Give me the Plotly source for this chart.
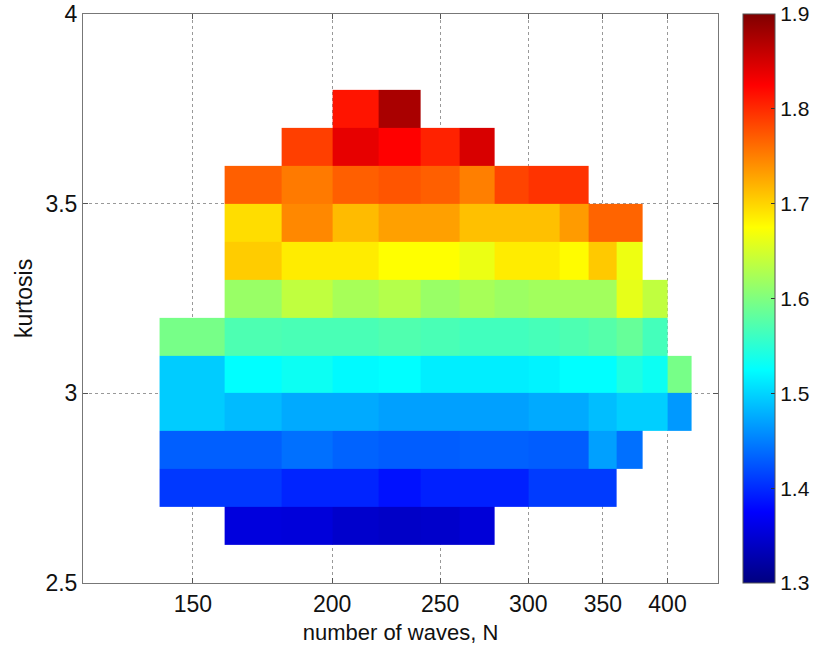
import plotly.graph_objects as go

# bin edges (number of waves N, log axis) and kurtosis bins
n_edges = [140, 160, 180, 200, 220, 240, 260, 280, 300, 320, 340, 360, 380, 400, 420]
k_edges = [2.6, 2.7, 2.8, 2.9, 3.0, 3.1, 3.2, 3.3, 3.4, 3.5, 3.6, 3.7, 3.8]

N = None
# rows from kurtosis 2.6-2.7 (bottom) to 3.7-3.8 (top); 14 columns each
row_26 = [N, 1.355, 1.353, 1.345, 1.342, 1.344, 1.352, N, N, N, N, N, N, N]
row_27 = [1.408, 1.408, 1.396, 1.396, 1.385, 1.394, 1.394, 1.394, 1.410, 1.410, 1.410, N, N, N]
row_28 = [1.431, 1.431, 1.441, 1.433, 1.430, 1.430, 1.432, 1.432, 1.430, 1.430, 1.469, 1.441, N, N]
row_29 = [1.495, 1.485, 1.475, 1.475, 1.469, 1.469, 1.469, 1.469, 1.475, 1.475, 1.487, 1.497, 1.497, 1.465]
row_30 = [1.495, 1.525, 1.532, 1.522, 1.525, 1.515, 1.515, 1.515, 1.518, 1.525, 1.525, 1.542, 1.532, 1.595]
row_31 = [1.595, 1.570, 1.568, 1.568, 1.572, 1.568, 1.563, 1.563, 1.566, 1.570, 1.575, 1.585, 1.565, N]
row_32 = [N, 1.615, 1.638, 1.623, 1.631, 1.615, 1.623, 1.617, 1.620, 1.620, 1.620, 1.660, 1.638, N]
row_33 = [N, 1.705, 1.686, 1.686, 1.675, 1.675, 1.664, 1.686, 1.686, 1.677, 1.707, 1.665, N, N]
row_34 = [N, 1.695, 1.745, 1.715, 1.731, 1.731, 1.712, 1.712, 1.712, 1.734, 1.766, 1.766, N, N]
row_35 = [N, 1.769, 1.753, 1.769, 1.775, 1.769, 1.750, 1.785, 1.795, 1.795, N, N, N, N]
row_36 = [N, N, 1.788, 1.839, 1.825, 1.805, 1.848, N, N, N, N, N, N, N]
row_37 = [N, N, N, 1.813, 1.876, N, N, N, N, N, N, N, N, N]

z = [row_26, row_27, row_28, row_29, row_30, row_31, row_32,
     row_33, row_34, row_35, row_36, row_37]

x_ticks = [150, 200, 250, 300, 350, 400]
y_ticks = [2.5, 3, 3.5, 4]
cb_ticks = [1.3, 1.4, 1.5, 1.6, 1.7, 1.8, 1.9]

jet = [
    [0.0, "rgb(0,0,128)"],
    [0.125, "rgb(0,0,255)"],
    [0.375, "rgb(0,255,255)"],
    [0.625, "rgb(255,255,0)"],
    [0.875, "rgb(255,0,0)"],
    [1.0, "rgb(128,0,0)"],
]

FONT = "Liberation Sans, Arial, Helvetica, sans-serif"
FS = 23

fig = go.Figure(
    go.Heatmap(
        x=n_edges,
        y=k_edges,
        z=z,
        zmin=1.3,
        zmax=1.9,
        colorscale=jet,
        hoverongaps=False,
        colorbar=dict(
            x=1.039,
            xanchor="left",
            xpad=0,
            y=0.5,
            yanchor="middle",
            len=1.0,
            lenmode="fraction",
            ypad=0,
            thickness=32,
            thicknessmode="pixels",
            outlinewidth=1,
            outlinecolor="#555",
            tickvals=cb_ticks,
            ticktext=[f"{v:.1f}" for v in cb_ticks],
            ticks="inside",
            ticklen=4,
            tickcolor="#333",
            tickfont=dict(family=FONT, size=21, color="#111"),
        ),
    )
)

fig.update_layout(
    width=814,
    height=647,
    margin=dict(l=83, r=96, t=14, b=64, autoexpand=False),
    paper_bgcolor="white",
    plot_bgcolor="white",
    font=dict(family=FONT, size=FS, color="#111"),
    showlegend=False,
)

fig.update_xaxes(
    type="log",
    range=[2.0774, 2.6474],
    tickvals=x_ticks,
    ticktext=[str(v) for v in x_ticks],
    ticks="inside",
    ticklen=5,
    tickcolor="#555",
    showline=True,
    linecolor="#777",
    linewidth=1,
    mirror="ticks",
    showgrid=True,
    gridcolor="#999",
    griddash="dot",
    gridwidth=1,
    zeroline=False,
    automargin=False,
    tickfont=dict(size=FS),
    title=dict(text="number of waves, N", font=dict(size=22), standoff=9),
)

fig.update_yaxes(
    range=[2.5, 4.0],
    tickvals=y_ticks,
    ticktext=["2.5", "3", "3.5", "4"],
    ticks="inside",
    ticklen=5,
    tickcolor="#555",
    showline=True,
    linecolor="#777",
    linewidth=1,
    mirror="ticks",
    showgrid=True,
    gridcolor="#999",
    griddash="dot",
    gridwidth=1,
    zeroline=False,
    automargin=False,
    tickfont=dict(size=FS),
    title=dict(text="kurtosis", font=dict(size=FS), standoff=6),
)

fig.write_html(
    "out.html",
    config={"displayModeBar": False},
    post_script="document.body.style.margin='0';document.body.style.overflow='hidden';",
)
